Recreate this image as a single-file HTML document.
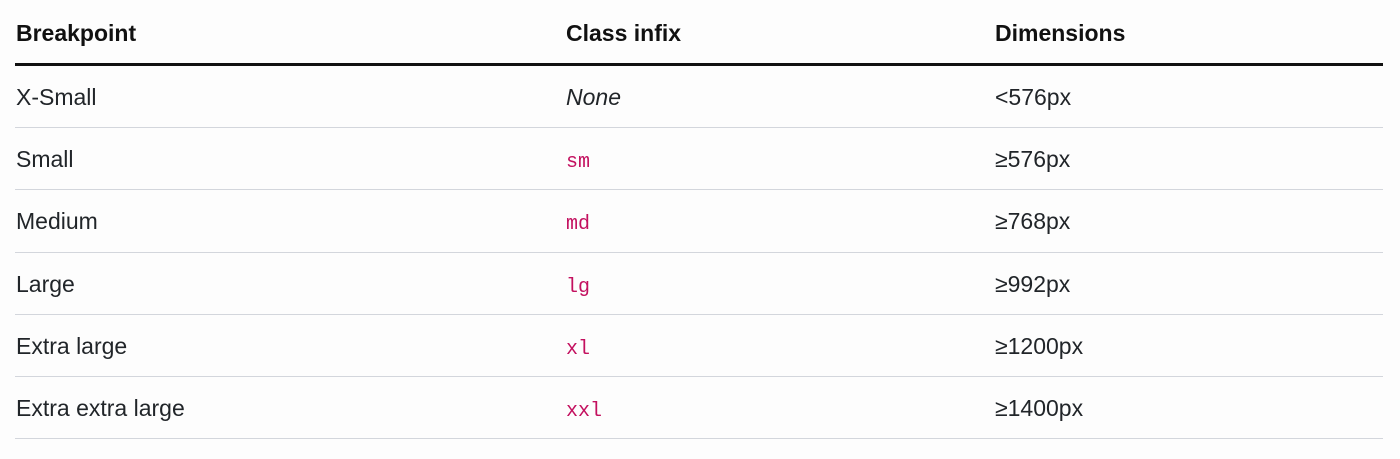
<!DOCTYPE html>
<html><head><meta charset="utf-8"><style>
html,body{margin:0;padding:0;background:#fdfdfd;width:1400px;height:459px;overflow:hidden}
body{position:relative;font-family:"Liberation Sans",sans-serif;color:#212529;font-size:23px}
.t{position:absolute;line-height:26px;white-space:nowrap}
.h{font-weight:bold;color:#111}
.c{font-family:"Liberation Mono",monospace;color:#c3105f;font-size:20px}
.l{position:absolute;left:15px;width:1368px;height:1px;background:#d3d6dc}
</style></head><body>
<div class="t h" style="left:16px;top:20px">Breakpoint</div>
<div class="t h" style="left:566px;top:20px">Class infix</div>
<div class="t h" style="left:995px;top:20px">Dimensions</div>
<div style="position:absolute;left:15px;top:63px;width:1368px;height:3px;background:#111"></div>

<div class="t" style="left:16px;top:84px">X-Small</div>
<div class="t" style="left:566px;top:84px;font-style:italic">None</div>
<div class="t" style="left:995px;top:84px">&lt;576px</div>
<div class="l" style="top:127px"></div>

<div class="t" style="left:16px;top:146px">Small</div>
<div class="t c" style="left:566px;top:150px">sm</div>
<div class="t" style="left:995px;top:146px">≥576px</div>
<div class="l" style="top:189px"></div>

<div class="t" style="left:16px;top:208px">Medium</div>
<div class="t c" style="left:566px;top:212px">md</div>
<div class="t" style="left:995px;top:208px">≥768px</div>
<div class="l" style="top:252px"></div>

<div class="t" style="left:16px;top:271px">Large</div>
<div class="t c" style="left:566px;top:275px">lg</div>
<div class="t" style="left:995px;top:271px">≥992px</div>
<div class="l" style="top:314px"></div>

<div class="t" style="left:16px;top:333px">Extra large</div>
<div class="t c" style="left:566px;top:337px">xl</div>
<div class="t" style="left:995px;top:333px">≥1200px</div>
<div class="l" style="top:376px"></div>

<div class="t" style="left:16px;top:395px">Extra extra large</div>
<div class="t c" style="left:566px;top:399px">xxl</div>
<div class="t" style="left:995px;top:395px">≥1400px</div>
<div class="l" style="top:438px"></div>
</body></html>
